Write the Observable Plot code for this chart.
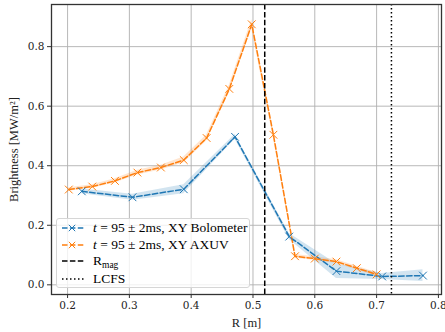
<!DOCTYPE html>
<html>
<head>
<meta charset="utf-8">
<script src="https://cdn.jsdelivr.net/npm/d3@7"></script>
<script src="https://cdn.jsdelivr.net/npm/@observablehq/plot@0.6"></script>
<style>
  body { margin: 0; background: #fff; }
  #wrap { position: relative; width: 445px; height: 332px; overflow: hidden; }
  #wrap svg { font-family: "DejaVu Serif", serif; }
  #wrap svg g[aria-label="x-axis label"] text,
  #wrap svg g[aria-label="y-axis label"] text { font-family: "Liberation Serif", serif; font-size: 12.5px; }
  #legend { position: absolute; left: 56px; top: 218px; width: 194px; height: 70px;
    background: rgba(255,255,255,0.8); border: 1px solid #d6d6d6; border-radius: 3px;
    font-family: "Liberation Serif", serif; font-size: 13.5px; color: #000; box-sizing: border-box; }
  .row { position: absolute; left: 0; height: 16px; width: 100%; }
  .row svg { position: absolute; left: 4px; top: 2px; }
  .row span { position: absolute; left: 36px; top: 0; line-height: 16px; white-space: nowrap; }
  .sp { display: inline-block; width: 2px; }
  sub { font-size: 9.5px; vertical-align: -3px; }
</style>
</head>
<body>
<div id="wrap"></div>
<script>
// Bolometer
const boloR = [0.223, 0.305, 0.388, 0.471, 0.5587, 0.635, 0.709, 0.775];
const boloB = [0.314, 0.294, 0.321, 0.497, 0.162, 0.046, 0.028, 0.031];
const boloErr = [0.008, 0.010, 0.015, 0.008, 0.010, 0.025, 0.010, 0.020];
// AXUV
const axuvR = [0.202, 0.240, 0.2766, 0.313, 0.351, 0.388, 0.425, 0.4617, 0.498, 0.533, 0.568, 0.600, 0.635, 0.668, 0.700];
const axuvB = [0.320, 0.330, 0.349, 0.377, 0.394, 0.419, 0.493, 0.658, 0.875, 0.504, 0.096, 0.088, 0.078, 0.056, 0.035];
const axuvErr = [0.006, 0.006, 0.007, 0.008, 0.008, 0.010, 0.010, 0.012, 0.015, 0.012, 0.006, 0.006, 0.006, 0.006, 0.006];
const Rmag = 0.519;
const LCFS = 0.724;
const xTicks = [0.2, 0.3, 0.4, 0.5, 0.6, 0.7, 0.8];
const yTicks = [0.0, 0.2, 0.4, 0.6, 0.8];

const blue = "#1f77b4", orange = "#ff7f0e";
const bolo = boloR.map((r, i) => ({r, b: boloB[i], lo: boloB[i] - boloErr[i], hi: boloB[i] + boloErr[i]}));
const axuv = axuvR.map((r, i) => ({r, b: axuvB[i], lo: axuvB[i] - axuvErr[i], hi: axuvB[i] + axuvErr[i]}));
const dash = "5.5,2.4";

const chart = Plot.plot({
  width: 445, height: 332,
  marginLeft: 51, marginRight: 4, marginTop: 4, marginBottom: 38,
  style: {fontSize: "10.5px", fontFamily: "DejaVu Serif, serif", color: "#222"},
  x: {domain: [0.174, 0.805]},
  y: {domain: [-0.0325, 0.9415]},
  marks: [
    Plot.gridX(xTicks, {stroke: "#b0b0b0", strokeOpacity: 1, strokeWidth: 0.9}),
    Plot.gridY(yTicks, {stroke: "#b0b0b0", strokeOpacity: 1, strokeWidth: 0.9}),
    Plot.areaY(bolo, {x: "r", y1: "lo", y2: "hi", fill: blue, fillOpacity: 0.2}),
    Plot.areaY(axuv, {x: "r", y1: "lo", y2: "hi", fill: orange, fillOpacity: 0.2}),
    Plot.line(bolo, {x: "r", y: "b", stroke: blue, strokeWidth: 1.5, strokeDasharray: dash}),
    Plot.line(axuv, {x: "r", y: "b", stroke: orange, strokeWidth: 1.5, strokeDasharray: dash}),
    Plot.dot(bolo, {x: "r", y: "b", symbol: "times", stroke: blue, r: 3.6, strokeWidth: 1}),
    Plot.dot(axuv, {x: "r", y: "b", symbol: "times", stroke: orange, r: 3.6, strokeWidth: 1}),
    Plot.ruleX([Rmag], {stroke: "#000", strokeWidth: 1.5, strokeDasharray: dash}),
    Plot.ruleX([LCFS], {stroke: "#000", strokeWidth: 1.5, strokeDasharray: "1.5,2.5"}),
    Plot.axisX(xTicks, {tickFormat: d3.format(".1f"), tickSize: 4, tickPadding: 3, stroke: "#333",
      label: "R [m]", labelAnchor: "center", labelArrow: "none", labelOffset: 32}),
    Plot.axisY(yTicks, {tickFormat: d3.format(".1f"), tickSize: 4, tickPadding: 3, stroke: "#333",
      label: "Brightness [MW/m²]", labelAnchor: "center", labelArrow: "none", labelOffset: 42}),
    Plot.frame({stroke: "#333", strokeWidth: 1.3})
  ]
});
document.getElementById("wrap").appendChild(chart);

// Legend (overlay)
const legendItems = [
  {color: blue, dash: dash, marker: true, html: "<i>t</i><span class='sp'></span> = 95 ± 2ms, XY Bolometer"},
  {color: orange, dash: dash, marker: true, html: "<i>t</i><span class='sp'></span> = 95 ± 2ms, XY AXUV"},
  {color: "#000", dash: dash, marker: false, html: "R<sub>mag</sub>"},
  {color: "#000", dash: "1.5,2.5", marker: false, html: "LCFS"}
];
const legendTops = [1, 18, 34, 52];
const lg = document.createElement("div");
lg.id = "legend";
legendItems.forEach((it, i) => {
  const row = document.createElement("div");
  row.className = "row";
  row.style.top = legendTops[i] + "px";
  const m = it.marker ? `<path d="M${11-3.2},${6-3.2}L${11+3.2},${6+3.2}M${11-3.2},${6+3.2}L${11+3.2},${6-3.2}" stroke="${it.color}" stroke-width="1"/>` : "";
  row.innerHTML = `<svg width="24" height="12"><line x1="1" y1="6" x2="23" y2="6" stroke="${it.color}" stroke-width="1.5" stroke-dasharray="${it.dash}"/>${m}</svg><span>${it.html}</span>`;
  lg.appendChild(row);
});
document.getElementById("wrap").appendChild(lg);
</script>
</body>
</html>
